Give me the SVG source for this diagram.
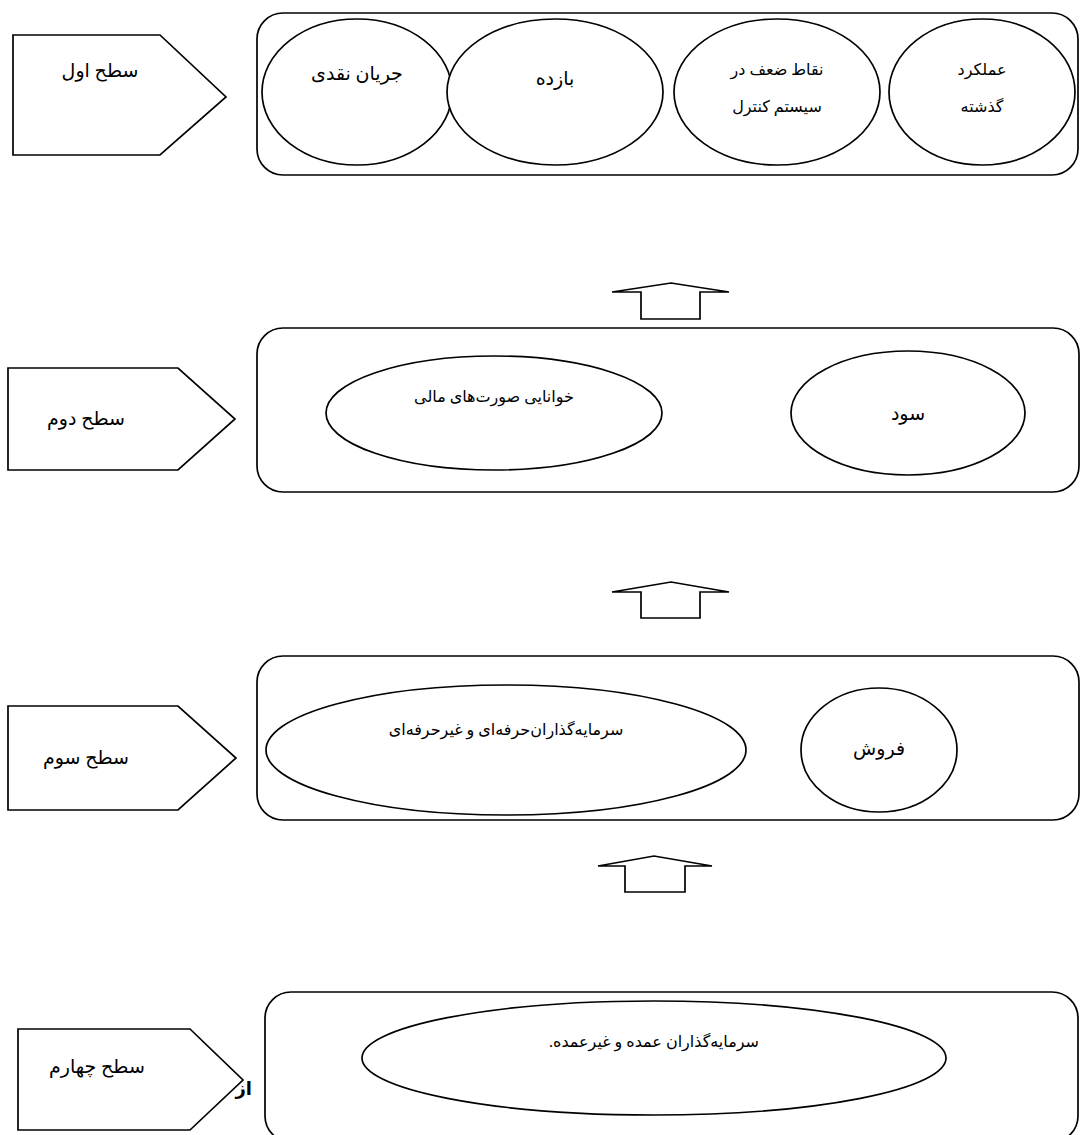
<svg xmlns="http://www.w3.org/2000/svg" width="1085" height="1135" viewBox="0 0 1085 1135">
<style>
.s{fill:#fff;stroke:#000;stroke-width:1.7}
.t{font-family:"Liberation Serif","DejaVu Serif","DejaVu Sans",serif;font-size:19px;fill:#000;text-anchor:middle;direction:rtl;unicode-bidi:embed}
.sm{font-size:16px}
.b{font-family:"Liberation Sans","DejaVu Sans",sans-serif;font-weight:bold;font-size:18px;fill:#000;text-anchor:end}
</style>
<rect width="1085" height="1135" fill="#fff"/>
<g id="level1">
<polygon class="s" points="13,35 160,35 226,97 160,155 13,155"/>
<text class="t" x="100" y="77">سطح اول</text>
</g>
<g id="box1">
<rect class="s" x="257" y="13" width="821" height="162" rx="26"/>
</g>
<g id="n1a"><ellipse class="s" cx="357" cy="92" rx="95" ry="73"/><text class="t" x="357" y="80">جریان نقدی</text></g>
<g id="n1b"><ellipse class="s" cx="555" cy="92" rx="108" ry="73"/><text class="t" x="555" y="85">بازده</text></g>
<g id="n1c"><ellipse class="s" cx="777" cy="92" rx="103" ry="73"/><text class="t sm" x="777" y="75">نقاط ضعف در</text><text class="t sm" x="777" y="112">سیستم کنترل</text></g>
<g id="n1d"><ellipse class="s" cx="982" cy="92" rx="93" ry="73"/><text class="t sm" x="982" y="75">عملکرد</text><text class="t sm" x="982" y="112">گذشته</text></g>

<g id="level2">
<polygon class="s" points="8,368 178,368 235,419 178,470 8,470"/>
<text class="t" x="86" y="425">سطح دوم</text>
</g>
<g id="box2"><rect class="s" x="257" y="328" width="822" height="164" rx="26"/></g>
<g id="n2a"><ellipse class="s" cx="494" cy="413" rx="168" ry="57"/><text class="t sm" x="494" y="402">خوانایی صورت‌های مالی</text></g>
<g id="n2b"><ellipse class="s" cx="908" cy="413" rx="117" ry="62"/><text class="t" x="908" y="420">سود</text></g>

<g id="level3">
<polygon class="s" points="8,706 178,706 236,758 178,810 8,810"/>
<text class="t" x="86" y="764">سطح سوم</text>
</g>
<g id="box3"><rect class="s" x="257" y="656" width="822" height="164" rx="26"/></g>
<g id="n3a"><ellipse class="s" cx="506" cy="750" rx="240" ry="65"/><text class="t sm" x="506" y="735">سرمایه‌گذاران‌حرفه‌ای و غیرحرفه‌ای</text></g>
<g id="n3b"><ellipse class="s" cx="879" cy="750" rx="78" ry="62"/><text class="t" x="879" y="755">فروش</text></g>

<g id="level4">
<polygon class="s" points="18,1029 190,1029 243,1080 190,1130 18,1130"/>
<text class="t" x="97" y="1073">سطح چهارم</text>
</g>
<g id="box4"><rect class="s" x="265" y="992" width="813" height="150" rx="26"/></g>
<text class="b" x="252" y="1095">از</text>
<g id="n4a"><ellipse class="s" cx="654" cy="1058" rx="292" ry="57"/><text class="t sm" x="654" y="1047">سرمایه‌گذاران عمده و غیرعمده.</text></g>

<g id="connectors">
<polygon class="s" points="641,292 612,292 671,283 729,292 700,292 700,319 641,319"/>
<polygon class="s" points="641,592 612,592 671,582 729,592 700,592 700,618 641,618"/>
<polygon class="s" points="625,866 598,866 654,856 712,866 685,866 685,892 625,892"/>
</g>
</svg>
